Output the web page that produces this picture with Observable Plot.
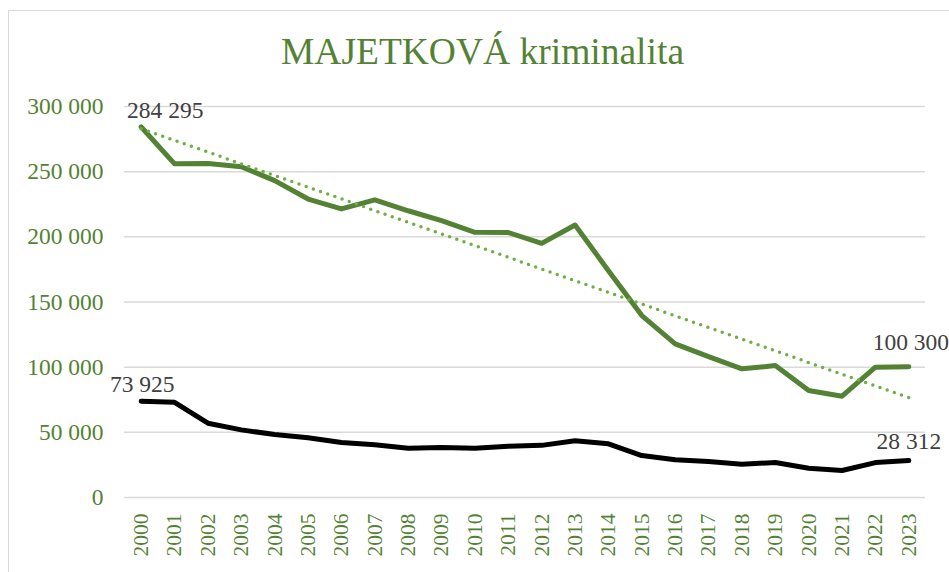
<!DOCTYPE html>
<html>
<head>
<meta charset="utf-8">
<script src="https://cdn.jsdelivr.net/npm/d3@7"></script>
<script src="https://cdn.jsdelivr.net/npm/@observablehq/plot@0.6"></script>
<style>
  html, body { margin: 0; padding: 0; background: #fff; }
  #wrap { position: relative; width: 949px; height: 572px; overflow: hidden; background: #fff; }
  #frame { position: absolute; left: 8px; top: 10px; width: 960px; height: 600px; border: 1.5px solid #d9d9d9; box-sizing: border-box; }
  #title { position: absolute; left: 8px; top: 30px; width: 949px; text-align: center;
           font-family: "Liberation Serif", "Times New Roman", serif; font-size: 37.5px; color: #548235; line-height: 44px; }
  #chart { position: absolute; left: 0; top: 90px; }
  #chart svg, #chart svg text { font-family: "Liberation Serif", "Times New Roman", serif !important; }
</style>
</head>
<body>
<div id="wrap">
  <div id="frame"></div>
  <div id="title">MAJETKOVÁ kriminalita</div>
  <div id="chart"></div>
</div>
<script>
const years = d3.range(2000, 2024);
const majetkova = [284295, 256000, 256300, 253800, 243100, 229000, 221400, 228300, 220000, 212400,
                   203500, 203300, 195000, 209100, 174000, 139600, 117900, 108100, 98700, 101200,
                   82100, 77700, 100000, 100300];
const objasnene = [73925, 73000, 57000, 51900, 48300, 45800, 42200, 40400, 37800, 38300,
                   37800, 39400, 40000, 43500, 41200, 32200, 28900, 27600, 25600, 26800,
                   22500, 20700, 26800, 28312];
const yTicks = [0, 50000, 100000, 150000, 200000, 250000, 300000];

const green = years.map((y, i) => ({year: y, value: majetkova[i]}));
const black = years.map((y, i) => ({year: y, value: objasnene[i]}));

const fmt = d => d3.format(",")(d).replace(/,/g, " ");
const font = "'Liberation Serif', 'Times New Roman', serif";

const first = (arr) => [arr[0]];
const last = (arr) => [arr[arr.length - 1]];

const plot = Plot.plot({
  width: 949,
  height: 482,
  marginLeft: 124,
  marginRight: 24,
  marginTop: 16,
  marginBottom: 75,
  style: "font-family: 'Liberation Serif', 'Times New Roman', serif; font-size: 22px; background: transparent; overflow: visible;",
  x: {domain: [1999.5, 2023.5], ticks: years, tickFormat: "d", tickRotate: -90, tickSize: 0, tickPadding: 16, label: null},
  y: {domain: [0, 300000], ticks: yTicks, tickFormat: fmt, tickSize: 0, tickPadding: 21, label: null},
  marks: [
    Plot.ruleY(yTicks, {stroke: "#d9d9d9", strokeWidth: 1.5}),
    Plot.axisY({ticks: yTicks, tickFormat: fmt, tickSize: 0, tickPadding: 21, fill: "#548235", fontSize: 23.5, fontFamily: font, label: null}),
    Plot.axisX({ticks: years, tickFormat: "d", tickRotate: -90, tickSize: 0, tickPadding: 16, fill: "#548235", fontSize: 21.5, fontFamily: font, label: null}),
    Plot.line(black, {x: "year", y: "value", stroke: "#000", strokeWidth: 5, strokeLinejoin: "round", strokeLinecap: "round"}),
    Plot.line(green, {x: "year", y: "value", stroke: "#548235", strokeWidth: 5, strokeLinejoin: "round", strokeLinecap: "round"}),
    Plot.linearRegressionY(green, {x: "year", y: "value", ci: 0, stroke: "#70ad47", strokeWidth: 3.5, strokeDasharray: "0 7.6", strokeLinecap: "round"}),
    Plot.text(first(green), {x: "year", y: "value", text: d => fmt(d.value), dx: 24, dy: -17, fill: "#404040", fontSize: 23.5, fontFamily: font}),
    Plot.text(last(green), {x: "year", y: "value", text: d => fmt(d.value), dx: 2, dy: -24, fill: "#404040", fontSize: 23.5, fontFamily: font}),
    Plot.text(first(black), {x: "year", y: "value", text: d => fmt(d.value), dx: 1, dy: -17, fill: "#404040", fontSize: 23.5, fontFamily: font}),
    Plot.text(last(black), {x: "year", y: "value", text: d => fmt(d.value), dx: 0, dy: -19, fill: "#404040", fontSize: 23.5, fontFamily: font})
  ]
});
document.getElementById("chart").appendChild(plot);
</script>
</body>
</html>
